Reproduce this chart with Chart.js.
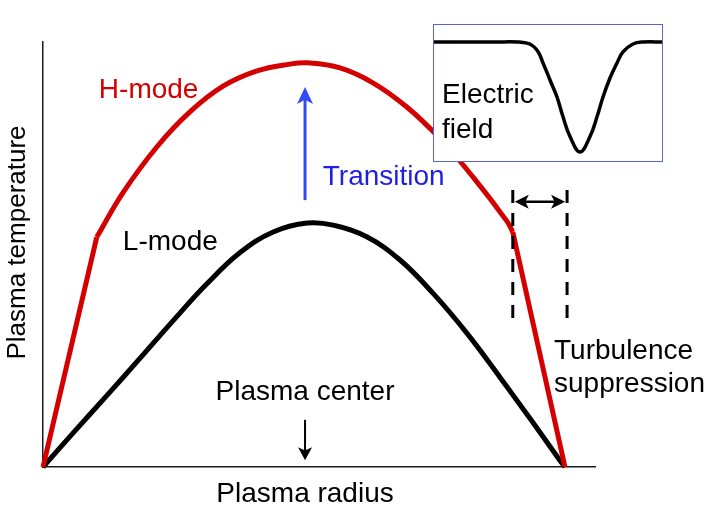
<!DOCTYPE html>
<html>
<head>
<meta charset="utf-8">
<script src="https://cdn.jsdelivr.net/npm/chart.js@4"></script>
<style>
  body { margin: 0; background: #fff; }
  #wrap { position: relative; width: 720px; height: 514px; }
  #inset {
    position: absolute; left: 433px; top: 24px; width: 230px; height: 138px;
    background: #fff; border: 1px solid rgb(90, 100, 210); box-sizing: border-box;
  }
  #inset canvas { display: block; }
</style>
</head>
<body>
<div id="wrap">
  <canvas id="main" width="720" height="514"></canvas>
  <div id="inset"><canvas id="field" width="228" height="136"></canvas></div>
</div>
<script>
// plasma radius (0 = one edge, 100 = other edge), temperature in arbitrary units
// H-mode: smooth core between the two pedestal knees
const hCoreRadius = [10.3, 15.3, 21.8, 28.2, 34.5, 41, 47.3, 50.6, 56.9, 63.2, 69.7, 76.1, 82.4, 88.9, 90];
const hCoreTemp   = [54.1, 64.5, 75.3, 83.6, 89.6, 93.2, 94.8, 95.1, 93.9, 90.4, 84.7, 77.2, 68.2, 57.8, 55.3];
// H-mode: steep edge (pedestal) on both sides
const hEdgeRadius = [0, 10.3, null, 90, 100];
const hEdgeTemp   = [0, 54.1, null, 55.3, 0];

const lRadius = [0, 5.7, 12.3, 18.6, 24.9, 31.4, 37.7, 44.1, 50.6, 55.6, 62.1, 68.4, 74.7, 81.2, 87.5, 93.9, 99, 100];
const lTemp   = [0, 7.9, 16.9, 25.6, 34.4, 43.1, 50.4, 55.3, 57.4, 56.9, 54.1, 48.7, 40.9, 31.5, 21.2, 10.4, 1.6, 0];

// electric field in the inset
const fieldPos = [0, 60, 94, 104, 110, 117, 124, 130, 137, 147, 157, 164, 170, 177, 184, 190, 200, 210, 230];
const fieldVal = [0, 0, -0.01, -0.073, -0.19, -0.345, -0.5, -0.68, -0.86, -1.0, -0.86, -0.68, -0.5, -0.327, -0.19, -0.09, -0.018, 0, 0];

const FONT = '"Liberation Sans", Arial, Helvetica, sans-serif';
const RED = 'rgb(212, 0, 0)';
const BLUE_TXT = 'rgb(30, 30, 230)';
const BLUE_ARW = 'rgb(50, 75, 240)';

function toXY(xs, ys) {
  return xs.map((x, i) => (x === null ? { x: null, y: null } : { x: x, y: ys[i] }));
}

function arrowHead(ctx, x, y, dx, dy, len, half) {
  // tip at (x,y), pointing along (dx,dy)
  const nx = -dy, ny = dx;
  ctx.beginPath();
  ctx.moveTo(x, y);
  ctx.lineTo(x - dx * len + nx * half, y - dy * len + ny * half);
  ctx.lineTo(x - dx * len * 0.75, y - dy * len * 0.75);
  ctx.lineTo(x - dx * len - nx * half, y - dy * len - ny * half);
  ctx.closePath();
  ctx.fill();
}

function text(ctx, str, x, y, size, color, align) {
  ctx.font = size + 'px ' + FONT;
  ctx.fillStyle = color;
  ctx.textAlign = align || 'left';
  ctx.textBaseline = 'alphabetic';
  ctx.fillText(str, x, y);
}

const notes = {
  id: 'notes',
  afterDatasetsDraw(chart) {
    const ctx = chart.ctx;
    const xs = chart.scales.x, ys = chart.scales.y;
    const X = v => xs.getPixelForValue(v);
    const Y = v => ys.getPixelForValue(v);
    const area = chart.chartArea;
    ctx.save();

    // labels
    text(ctx, 'H-mode', X(10.7), Y(86.8), 28, RED);
    text(ctx, 'L-mode', X(15.3), Y(51.1), 28, '#000');
    text(ctx, 'Transition', X(53.6), Y(66.4), 28, BLUE_TXT);
    text(ctx, 'Plasma center', X(50.2), Y(15.8), 28, '#000', 'center');
    text(ctx, 'Turbulence', X(97.9), Y(25.4), 28, '#000');
    text(ctx, 'suppression', X(97.9), Y(17.6), 28, '#000');

    // axis titles
    text(ctx, 'Plasma radius', X(50.2), area.bottom + 35, 28, '#000', 'center');
    ctx.save();
    ctx.translate(area.left - 18, (area.top + area.bottom) / 2 - 12);
    ctx.rotate(-Math.PI / 2);
    text(ctx, 'Plasma temperature', 0, 0, 26, '#000', 'center');
    ctx.restore();

    // transition arrow
    ctx.strokeStyle = BLUE_ARW;
    ctx.fillStyle = BLUE_ARW;
    ctx.lineWidth = 3;
    ctx.beginPath();
    ctx.moveTo(X(50.2), Y(62.8));
    ctx.lineTo(X(50.2), Y(89.4) + 10);
    ctx.stroke();
    arrowHead(ctx, X(50.2), Y(89.4), 0, -1, 17, 8);

    // plasma center arrow
    ctx.strokeStyle = '#000';
    ctx.fillStyle = '#000';
    ctx.lineWidth = 2;
    ctx.beginPath();
    ctx.moveTo(X(50.2), Y(11.1));
    ctx.lineTo(X(50.2), Y(1.6) - 8);
    ctx.stroke();
    arrowHead(ctx, X(50.2), Y(1.6), 0, 1, 13, 7);

    // edge barrier: dashed lines and width arrow
    ctx.lineWidth = 3;
    ctx.setLineDash([13, 10]);
    [90.0, 100.4].forEach(r => {
      ctx.beginPath();
      ctx.moveTo(X(r), Y(65.2));
      ctx.lineTo(X(r), Y(34.1));
      ctx.stroke();
    });
    ctx.setLineDash([]);
    ctx.lineWidth = 2.5;
    const ay = Y(62.4);
    ctx.beginPath();
    ctx.moveTo(X(90.0) + 6, ay);
    ctx.lineTo(X(100.4) - 6, ay);
    ctx.stroke();
    arrowHead(ctx, X(90.0) + 2, ay, -1, 0, 14, 7);
    arrowHead(ctx, X(100.4) - 2, ay, 1, 0, 14, 7);

    ctx.restore();
  }
};

const lineStyle = { borderWidth: 5, pointRadius: 0, clip: false, borderJoinStyle: 'round' };

new Chart(document.getElementById('main'), {
  type: 'line',
  data: {
    datasets: [
      Object.assign({
        label: 'H-mode',
        data: toXY(hCoreRadius, hCoreTemp),
        borderColor: RED,
        tension: 0.4
      }, lineStyle),
      Object.assign({
        label: 'H-mode edge',
        data: toXY(hEdgeRadius, hEdgeTemp),
        borderColor: RED,
        tension: 0,
        spanGaps: false
      }, lineStyle),
      Object.assign({
        label: 'L-mode',
        data: toXY(lRadius, lTemp),
        borderColor: '#000',
        tension: 0.4
      }, lineStyle)
    ]
  },
  options: {
    responsive: false,
    animation: false,
    devicePixelRatio: 1,
    layout: { padding: { left: 43, top: 42, right: 125, bottom: 47 } },
    plugins: { legend: { display: false }, tooltip: { enabled: false } },
    scales: {
      x: {
        type: 'linear', min: 0, max: 105.75,
        grid: { display: false }, ticks: { display: false },
        border: { display: true, color: '#1a1a1a', width: 1.5 },
        afterFit: s => { s.height = 0; }
      },
      y: {
        type: 'linear', min: 0, max: 100,
        grid: { display: false }, ticks: { display: false },
        border: { display: true, color: '#1a1a1a', width: 1.5 },
        afterFit: s => { s.width = 0; }
      }
    }
  },
  plugins: [notes]
});

// inset: electric field across the edge
const insetText = {
  id: 'insetText',
  afterDatasetsDraw(chart) {
    const ctx = chart.ctx;
    const X = v => chart.scales.x.getPixelForValue(v);
    const Y = v => chart.scales.y.getPixelForValue(v);
    ctx.save();
    text(ctx, 'Electric', X(9), Y(-0.555), 28, '#000');
    text(ctx, 'field', X(9), Y(-0.873), 28, '#000');
    ctx.restore();
  }
};

new Chart(document.getElementById('field'), {
  type: 'line',
  data: {
    datasets: [{
      label: 'Electric field',
      data: toXY(fieldPos, fieldVal),
      borderColor: '#000',
      borderWidth: 3.5,
      tension: 0.4,
      pointRadius: 0,
      clip: false
    }]
  },
  options: {
    responsive: false,
    animation: false,
    devicePixelRatio: 1,
    layout: { padding: 0 },
    plugins: { legend: { display: false }, tooltip: { enabled: false } },
    scales: {
      x: { type: 'linear', min: 1, max: 229, display: false },
      y: { type: 'linear', min: -1.082, max: 0.155, display: false }
    }
  },
  plugins: [insetText]
});
</script>
</body>
</html>
